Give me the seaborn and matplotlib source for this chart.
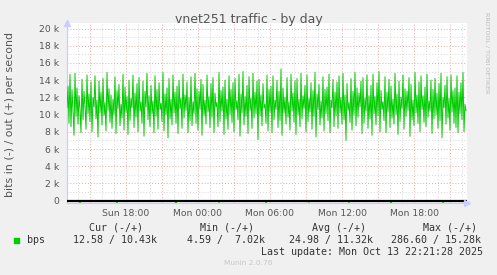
import numpy as np
import pandas as pd
import matplotlib
matplotlib.use("Agg")
import matplotlib.pyplot as plt
import matplotlib.dates as mdates
from matplotlib.ticker import FixedLocator, FuncFormatter, MultipleLocator
from matplotlib.patches import Rectangle
import seaborn as sns

# ---------------- data ----------------
title = "vnet251 traffic - by day"
ylabel = "bits in (-) / out (+) per second"
start_time = "2025-10-12 13:05"
step = "5min"

# out (+) traffic, thousands of bits per second, one value per 5 minutes
out_k = [
    10.8,13.3,9.0,14.7,8.6,12.9,10.4,7.6,14.8,9.8,13.1,8.9,12.2,10.6,7.9,14.1,
    9.4,12.7,11.0,8.3,14.6,10.1,12.4,9.2,13.8,8.0,12.0,10.9,14.5,9.5,11.7,7.4,
    13.9,10.2,12.6,8.8,14.2,9.9,11.4,8.1,14.9,10.5,13.0,9.1,12.3,8.4,11.8,10.0,
    14.4,7.8,12.8,10.7,13.5,8.7,11.2,9.6,14.7,8.2,13.2,10.3,12.1,7.7,14.0,9.3,
    11.9,10.8,14.6,8.5,12.5,9.7,13.6,8.0,14.3,10.4,11.5,9.0,13.9,7.5,12.7,10.9,
    14.8,9.4,12.2,8.6,13.4,10.1,11.6,7.9,14.5,9.8,12.9,8.3,13.7,10.6,11.3,9.2,
    14.9,8.1,12.4,10.0,13.1,7.3,14.2,9.5,11.8,8.8,14.6,10.2,12.6,9.0,13.3,7.8,
    14.0,10.7,11.9,8.4,14.7,9.6,12.3,10.5,13.8,7.9,12.0,9.3,14.4,8.7,11.5,10.1,
    14.8,9.0,13.0,8.2,12.7,10.6,14.1,7.6,13.5,9.9,11.7,8.9,14.6,10.3,12.1,8.5,
    13.6,9.7,14.3,7.9,12.5,10.9,11.4,8.6,14.9,9.2,12.8,10.4,13.2,7.7,14.0,9.5,
    11.8,8.3,14.5,10.0,12.9,9.1,13.7,8.0,14.2,10.6,11.6,9.4,14.7,7.5,12.4,10.2,
    15.0,8.8,12.1,9.8,13.4,7.8,14.4,10.5,11.9,8.4,14.8,9.6,12.6,10.1,13.9,7.1,
    14.1,9.9,12.3,8.7,13.6,10.8,11.2,9.0,14.6,8.1,12.9,10.3,13.3,7.9,14.5,9.4,
    11.7,10.6,14.0,8.5,12.7,9.3,15.3,7.6,13.1,10.2,12.0,8.9,14.3,9.7,11.5,8.2,
    14.7,10.4,12.5,9.1,13.9,7.7,14.2,10.0,11.8,8.6,14.8,9.5,12.2,10.7,13.4,8.0,
    14.6,9.2,11.9,10.3,13.7,8.3,12.8,9.8,14.9,7.4,12.4,10.6,13.5,8.8,11.6,9.6,
    14.4,8.1,12.9,10.1,13.2,9.3,14.7,7.9,11.7,10.8,14.1,8.6,12.6,9.9,13.8,8.4,
    14.5,10.2,12.0,8.9,14.8,9.4,12.3,7.0,13.6,10.5,11.4,9.1,14.2,8.2,12.7,10.0,
    14.9,8.7,13.1,9.7,12.5,10.9,13.9,7.8,14.3,9.0,11.9,10.4,14.6,8.4,12.2,9.5,
    13.4,7.6,14.7,10.1,12.1,8.8,13.7,9.9,15.0,8.0,12.8,10.6,11.5,9.3,14.4,7.9,
    12.6,10.3,14.1,8.5,13.3,9.6,11.8,8.9,14.8,10.0,12.4,7.7,13.9,9.2,12.0,10.7,
    14.6,8.3,13.0,9.8,12.7,10.5,14.3,7.5,13.5,9.4,11.7,8.7,14.9,10.2,12.3,9.0,
    13.8,8.0,14.5,10.6,12.2,9.1,13.2,8.6,14.7,9.7,11.6,10.4,14.0,7.8,12.9,9.5,
    14.2,10.0,12.5,8.4,13.6,9.3,14.8,7.3,12.0,10.8,13.4,8.9,14.4,9.6,11.9,8.2,
    14.6,10.3,12.8,9.0,13.1,8.5,14.5,7.9,12.6,10.1,13.7,9.4,14.9,8.0,11.2,10.43,
]

# in (-) traffic, bits per second, one value per 5 minutes
in_bps = [
    18,22,25,19,31,24,20,27,23,18,26,21,29,210,24,19,22,28,20,25,23,30,18,21,26,
    24,20,27,19,23,31,22,18,25,28,21,24,19,26,22,30,20,23,27,18,25,21,29,24,20,
    240,22,26,19,24,28,21,23,18,27,25,20,30,22,19,26,24,21,28,23,20,25,18,27,22,
    26,19,23,28,21,24,20,30,22,25,18,27,23,21,29,19,24,26,20,22,28,18,25,23,21,
    27,20,24,22,29,19,25,21,23,286,26,20,28,22,19,24,27,21,25,18,30,23,20,26,22,
    24,21,28,19,25,23,20,27,22,26,18,29,24,21,23,28,20,25,19,27,22,24,30,21,26,
    23,20,190,25,21,28,24,19,26,22,27,20,23,29,18,25,21,24,28,22,20,26,23,19,27,
    25,22,28,20,24,19,27,23,21,26,29,18,24,22,25,20,28,23,21,26,19,24,27,22,230,
    21,26,23,19,28,24,20,25,22,27,18,29,23,21,26,24,20,28,22,25,19,27,23,21,24,
    26,20,24,28,22,19,25,23,27,21,29,18,24,26,20,23,28,170,22,25,19,27,21,24,26,
    20,28,23,25,19,24,27,22,21,26,29,18,23,25,20,28,24,22,19,27,21,26,23,25,20,
    24,22,27,19,25,21,28,200,23,26,20,24,29,18,22,27,25,21,23,19,26,28,20,24,22,
    27,21,25,23,19,28,22,26,20,24,29,18,25,23,21,27,20,24,26,22,19,28,23,25,260,
    22,26,20,24,28,19,25,23,21,27,18,29,24,22,26,20,25,23,28,21,19,27,24,22,26,
    20,25,23,28,21,24,19,27,22,26,29,18,23,25,20,24,28,22,21,26,19,27,23,25,24,
    22,220,26,20,24,27,21,25,19,28,23,22,26,20,24,29,18,25,21,27,23,22,26,24,13,
]

y_ticks = [0, 2000, 4000, 6000, 8000, 10000, 12000, 14000, 16000, 18000, 20000]
y_tick_labels = ["0", "2 k", "4 k", "6 k", "8 k", "10 k", "12 k", "14 k",
                 "16 k", "18 k", "20 k"]

legend_name = "bps"
legend_headers = ["Cur (-/+)", "Min (-/+)", "Avg (-/+)", "Max (-/+)"]
legend_values = ["12.58 / 10.43k", "4.59 /  7.02k", "24.98 / 11.32k", "286.60 / 15.28k"]
last_update = "Last update: Mon Oct 13 22:21:28 2025"
footer = "Munin 2.0.76"
side_text = "RRDTOOL / TOBI OETIKER"

# ---------------- frame ----------------
times = pd.date_range(start_time, periods=len(out_k), freq=step)
df = pd.DataFrame({
    "time": times,
    "out": np.array(out_k) * 1000.0,
    "in": -np.array(in_bps, dtype=float),
})

sns.set_style("white")
plt.rcParams["font.family"] = ["DejaVu Sans"]

W, H = 497, 275
fig = plt.figure(figsize=(W / 100, H / 100), dpi=100, facecolor="#F0F0F0")
ax = fig.add_axes([67 / W, 1 - 203 / H, 400 / W, 180 / H])
ax.set_facecolor("white")

GREEN = "#00CC00"
sns.lineplot(data=df, x="time", y="in", ax=ax, color=GREEN, lw=0.8,
             estimator=None, zorder=3)
ax.axhline(0, color="black", lw=1.6, zorder=4)
sns.lineplot(data=df, x="time", y="out", ax=ax, color=GREEN, lw=0.7,
             estimator=None, zorder=5)

# limits
x0 = pd.Timestamp("2025-10-12 13:05")
x1 = pd.Timestamp("2025-10-13 22:25")
ax.set_xlim(x0, x1)
ax.set_ylim(-267, 20640)

# grids
ax.yaxis.set_major_locator(FixedLocator(y_ticks))
ax.yaxis.set_minor_locator(MultipleLocator(1000))
ax.set_yticklabels(y_tick_labels)

ax.xaxis.set_major_locator(mdates.HourLocator(byhour=range(0, 24, 3)))
ax.xaxis.set_minor_locator(mdates.HourLocator())


def xfmt(v, pos):
    d = mdates.num2date(v)
    if d.hour % 6 == 0:
        return d.strftime("%a %H:%M")
    return ""


ax.xaxis.set_major_formatter(FuncFormatter(xfmt))

ax.grid(which="major", color="#E8A8A8", lw=0.7, ls=(0, (1, 2)), zorder=1)
ax.grid(which="minor", color="#D6D6D6", lw=0.7, ls=(0, (1, 2)), zorder=0)
ax.set_axisbelow(True)

for s in ["top", "right"]:
    ax.spines[s].set_visible(False)
for s in ["left", "bottom"]:
    ax.spines[s].set_color("#CCCCFF")
    ax.spines[s].set_linewidth(0.9)

ax.tick_params(axis="y", which="both", length=0, pad=5.5, labelsize=6.7,
               labelcolor="#555555")
ax.tick_params(axis="x", which="major", length=2.2, width=0.6, color="#E08080",
               pad=2.0, labelsize=6.7, labelcolor="#555555")
ax.tick_params(axis="x", which="minor", length=1.5, width=0.6, color="#BBBBBB")
ax.set_xlabel("")
ax.set_ylabel("")

# arrows
ax.plot([0], [1.0], marker="^", ms=4, color="#CCCCFF", transform=ax.transAxes,
        clip_on=False, zorder=6)
ax.plot([1.0], [0], marker=">", ms=4, color="#CCCCFF", transform=ax.transAxes,
        clip_on=False, zorder=6)

# texts
fig.text(248.5 / W, 1 - 19 / H, title, ha="center", va="center", fontsize=9,
         color="#555555")
fig.text(10.5 / W, 1 - 114.5 / H, ylabel, ha="center", va="center",
         rotation=90, fontsize=7.9, color="#555555")
fig.text(487 / W, 1 - 53 / H, side_text, ha="center", va="center",
         rotation=270, fontsize=4.6, color="#BBBBBB")

mono = dict(family="DejaVu Sans Mono", fontsize=7.2, color="#333333",
            va="center")
hx = [89, 200, 312, 423]
for x, t in zip(hx, legend_headers):
    fig.text(x / W, 1 - 228 / H, t, ha="left", **mono)
vx = [73, 187, 289, 391]
for x, t in zip(vx, legend_values):
    fig.text(x / W, 1 - 240 / H, t, ha="left", **mono)
fig.text(27 / W, 1 - 240 / H, legend_name, ha="left", **mono)
fig.patches.append(Rectangle((14 / W, 1 - 243 / H), 5 / W, 5 / H,
                             transform=fig.transFigure, color=GREEN))
fig.text(483 / W, 1 - 251.7 / H, last_update, ha="right", **mono)
fig.text(248 / W, 1 - 263 / H, footer, ha="center", va="center",
         fontsize=5.3, color="#C8C8C8")

fig.savefig("out.png", dpi=100, facecolor=fig.get_facecolor())
